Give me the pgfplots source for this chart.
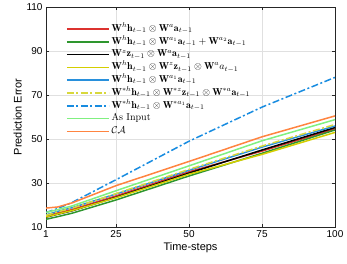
\documentclass[border=0pt]{standalone}
\usepackage{fontspec}
\newfontfamily\helv{Liberation Sans}
\usepackage{amsmath,amssymb}
\usepackage{pgfplots}
\pgfplotsset{compat=1.18}
\usetikzlibrary{calc}
\definecolor{cred}{RGB}{220,50,47}
\definecolor{cdgreen}{RGB}{46,150,46}
\definecolor{cyel}{RGB}{212,206,0}
\definecolor{cblue}{RGB}{40,144,220}
\definecolor{cyeldd}{RGB}{216,216,60}
\definecolor{cbluedd}{RGB}{24,140,224}
\definecolor{clgreen}{RGB}{128,240,128}
\definecolor{corange}{RGB}{255,132,64}
\begin{document}
\begin{tikzpicture}
\begin{axis}[
  name=ax,
  scale only axis,
  width=289pt, height=220pt,
  xmin=1, xmax=100, ymin=10, ymax=110,
  xtick={1,25,50,75,100}, ytick={10,30,50,70,90,110},
  grid=major,
  grid style={line width=0.4pt, draw=black!12},
  axis line style={line width=0.5pt, draw=black!85},
  tick style={line width=0.5pt, draw=black!85},
  tick align=inside,
  major tick length=3pt,
  xtick pos=both, ytick pos=both,
  /pgf/number format/assume math mode=true,
  ticklabel style={font=\helv\fontsize{10}{12}\selectfont},
  xlabel={Time-steps}, ylabel={Prediction Error},
  label style={font=\helv\fontsize{11}{13}\selectfont},
  xlabel style={yshift=2pt},
  ylabel style={yshift=-2pt},
  legend cell align=left,
  legend style={draw=none, fill=none, anchor=north west,
    at={(rel axis cs:0,1)}, xshift=20pt, yshift=-15pt,
    font=\fontsize{10}{10}\selectfont, row sep=-0.7pt,
    inner sep=0pt, nodes={inner sep=2pt, text height=7pt, text depth=2.5pt}},
  every axis plot/.append style={line width=1.5pt,
    legend image code/.code={\draw[##1, line width=1.5pt] (0pt,0pt) -- (42pt,0pt);}},
]
% red
\addplot[cred] coordinates {(1,15.0) (5,16.4) (10,18.0) (25,24.1) (50,35.1) (75,44.5) (100,54.6)};
% dark green
\addplot[cdgreen] coordinates {(1,13.5) (5,14.7) (10,16.3) (25,22.3) (50,33.2) (75,43.5) (100,54.1)};
% black
\addplot[black] coordinates {(1,14.5) (5,15.8) (10,17.4) (25,23.5) (50,34.5) (75,45.0) (100,55.2)};
% yellow solid
\addplot[cyel] coordinates {(1,14.6) (5,15.9) (10,17.5) (25,23.3) (50,34.0) (75,43.0) (100,53.0)};
% blue solid
\addplot[cblue] coordinates {(1,15.5) (5,17.1) (10,18.8) (25,25.0) (50,35.8) (75,46.3) (100,55.9)};
% yellow dashdot
\addplot[cyeldd, dash pattern=on 7pt off 2.5pt on 2pt off 2.5pt] coordinates {(1,15.3) (5,16.9) (10,18.6) (25,25.2) (50,36.2) (75,46.8) (100,56.6)};
% blue dashdot
\addplot[cbluedd, dash pattern=on 7pt off 2.5pt on 2pt off 2.5pt] coordinates {(1,16.6) (5,18.4) (10,21.2) (25,31.5) (50,49.0) (75,64.5) (100,78.0)};
% light green
\addplot[clgreen] coordinates {(1,16.6) (5,17.9) (10,19.6) (25,26.5) (50,37.8) (75,49.2) (100,58.8)};
% orange
\addplot[corange] coordinates {(1,18.6) (5,19.1) (10,21.0) (25,28.8) (50,39.8) (75,51.0) (100,60.5)};
\legend{
$\mathbf{W}^h\mathbf{h}_{t-1} \otimes \mathbf{W}^a\mathbf{a}_{t-1}$,
$\mathbf{W}^h\mathbf{h}_{t-1} \otimes \mathbf{W}^{a_1}\mathbf{a}_{t-1} + \mathbf{W}^{a_2}\mathbf{a}_{t-1}$,
$\mathbf{W}^z\mathbf{z}_{t-1} \otimes \mathbf{W}^a\mathbf{a}_{t-1}$,
$\mathbf{W}^h\mathbf{h}_{t-1} \otimes \mathbf{W}^z\mathbf{z}_{t-1} \otimes \mathbf{W}^a a_{t-1}$,
$\mathbf{W}^h\mathbf{h}_{t-1} \otimes \mathbf{W}^{a_1}\mathbf{a}_{t-1}$,
$\mathbf{W}^{*h}\mathbf{h}_{t-1} \otimes \mathbf{W}^{*z}\mathbf{z}_{t-1} \otimes \mathbf{W}^{*a}\mathbf{a}_{t-1}$,
$\mathbf{W}^{*h}\mathbf{h}_{t-1} \otimes \mathbf{W}^{*a_1}\mathbf{a}_{t-1}$,
As Input,
$\mathcal{CA}$
}
\end{axis}
\pgfresetboundingbox
\path ($(ax.south west)+(-46pt,-36pt)$) rectangle ($(ax.north east)+(12pt,7pt)$);
\end{tikzpicture}
\end{document}
